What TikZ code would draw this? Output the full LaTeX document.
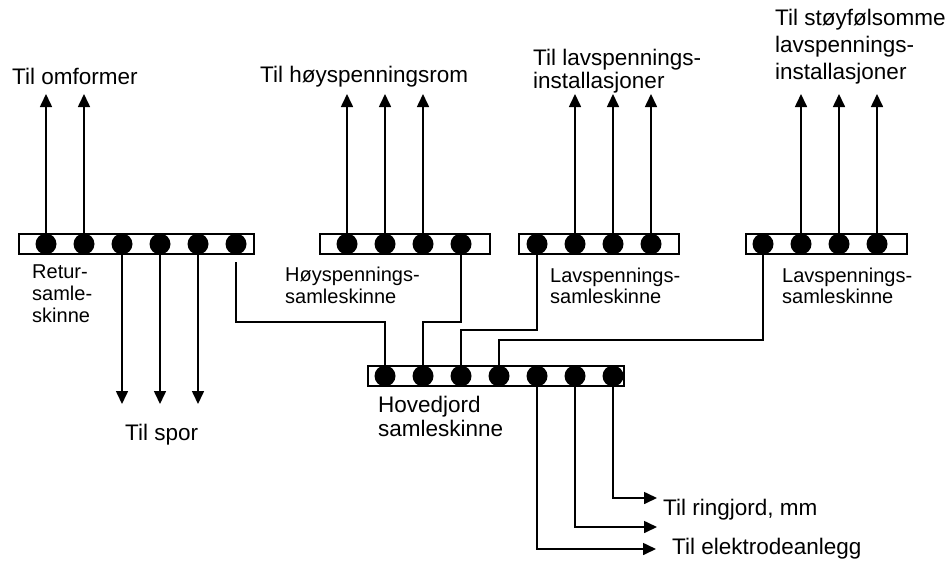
\documentclass[tikz,border=0pt]{standalone}
\usepackage{fontspec}
\setmainfont{Liberation Sans}
\usetikzlibrary{arrows.meta}
\begin{document}
\begin{tikzpicture}[x=1pt,y=-1pt,
  wire/.style={line width=1.6pt},
  arr/.style={wire,-{Triangle[length=13pt,width=12pt]}},
  bar/.style={draw,line width=1.6pt,fill=white,minimum height=20pt,inner sep=0,anchor=west},
  dot/.style={circle,fill=black,inner sep=0,minimum size=21pt},
  big/.style={font=\fontsize{22.5}{27}\selectfont,inner sep=0,anchor=base west},
  small/.style={font=\fontsize{20}{22}\selectfont,inner sep=0,anchor=base west}]
\useasboundingbox (0,0) rectangle (952,570);

% bars
\node[bar,minimum width=235pt] (retur) at (18,244) {};
\node[bar,minimum width=170pt] (hoy) at (319,244) {};
\node[bar,minimum width=160pt] (lav1) at (518,244) {};
\node[bar,minimum width=161pt] (lav2) at (745,244) {};
\node[bar,minimum width=256pt] (hoved) at (367,376) {};

% dots
\foreach \n/\x in {r1/46,r2/84,r3/122,r4/160,r5/198,r6/236,
                   s1/347,s2/385,s3/423,s4/461,
                   l1/537,l2/575,l3/613,l4/651,
                   m1/763,m2/801,m3/839,m4/877}
  \node[dot] (\n) at (\x,244) {};
\foreach \n/\x in {h1/385,h2/423,h3/461,h4/499,h5/537,h6/575,h7/613}
  \node[dot] (\n) at (\x,376) {};

% helper coordinates
\coordinate (top) at (0,94);
\coordinate (spor) at (0,404);
\coordinate (y322) at (0,322);
\coordinate (y330) at (0,330);
\coordinate (y340) at (0,340);
\coordinate (rgap) at (236,262);
\coordinate (e1) at (656,549);
\coordinate (e2) at (657,527);
\coordinate (e3) at (657,498);

% up arrows
\foreach \n in {r1,r2,s1,s2,s3,l2,l3,l4,m2,m3,m4}
  \draw[arr] (\n.north) -- (\n.center |- top);
% down arrows to track
\foreach \n in {r3,r4,r5}
  \draw[arr] (\n.south) -- (\n.center |- spor);

% connections to main earth bar
\draw[wire] (rgap) -- (rgap |- y322) -| (h1.north);
\draw[wire] (s4.south) -- (s4.center |- y322) -| (h2.north);
\draw[wire] (l1.south) -- (l1.center |- y330) -| (h3.north);
\draw[wire] (m1.south) -- (m1.center |- y340) -| (h4.north);

% outputs of main earth bar
\draw[arr] (h5.south) |- (e1);
\draw[arr] (h6.south) |- (e2);
\draw[arr] (h7.south) |- (e3);

% texts
\node[big] (t1) at (12,84) {Til omformer};
\node[big] (t2) at (260,82) {Til høyspenningsrom};
\node[big] (t3a) at (533,65) {Til lavspennings-};
\node[big] (t3b) at (533,88) {installasjoner};
\node[big] (t4a) at (775,25) {Til støyfølsomme};
\node[big] (t4b) at (775,52) {lavspennings-};
\node[big] (t4c) at (775,79) {installasjoner};
\node[big] (t5) at (125,440) {Til spor};
\node[small] (b1a) at (32,278) {Retur-};
\node[small] (b1b) at (32,300) {samle-};
\node[small] (b1c) at (32,322) {skinne};
\node[small] (b2a) at (285,281) {Høyspennings-};
\node[small] (b2b) at (285,303) {samleskinne};
\node[small] (b3a) at (550,282) {Lavspennings-};
\node[small] (b3b) at (550,303) {samleskinne};
\node[small] (b4a) at (782,282) {Lavspennings-};
\node[small] (b4b) at (782,303) {samleskinne};
\node[big] (hja) at (378,412) {Hovedjord};
\node[big] (hjb) at (378,436) {samleskinne};
\node[big] (t6) at (663,515) {Til ringjord, mm};
\node[big] (t7) at (672,554) {Til elektrodeanlegg};
\end{tikzpicture}
\end{document}
